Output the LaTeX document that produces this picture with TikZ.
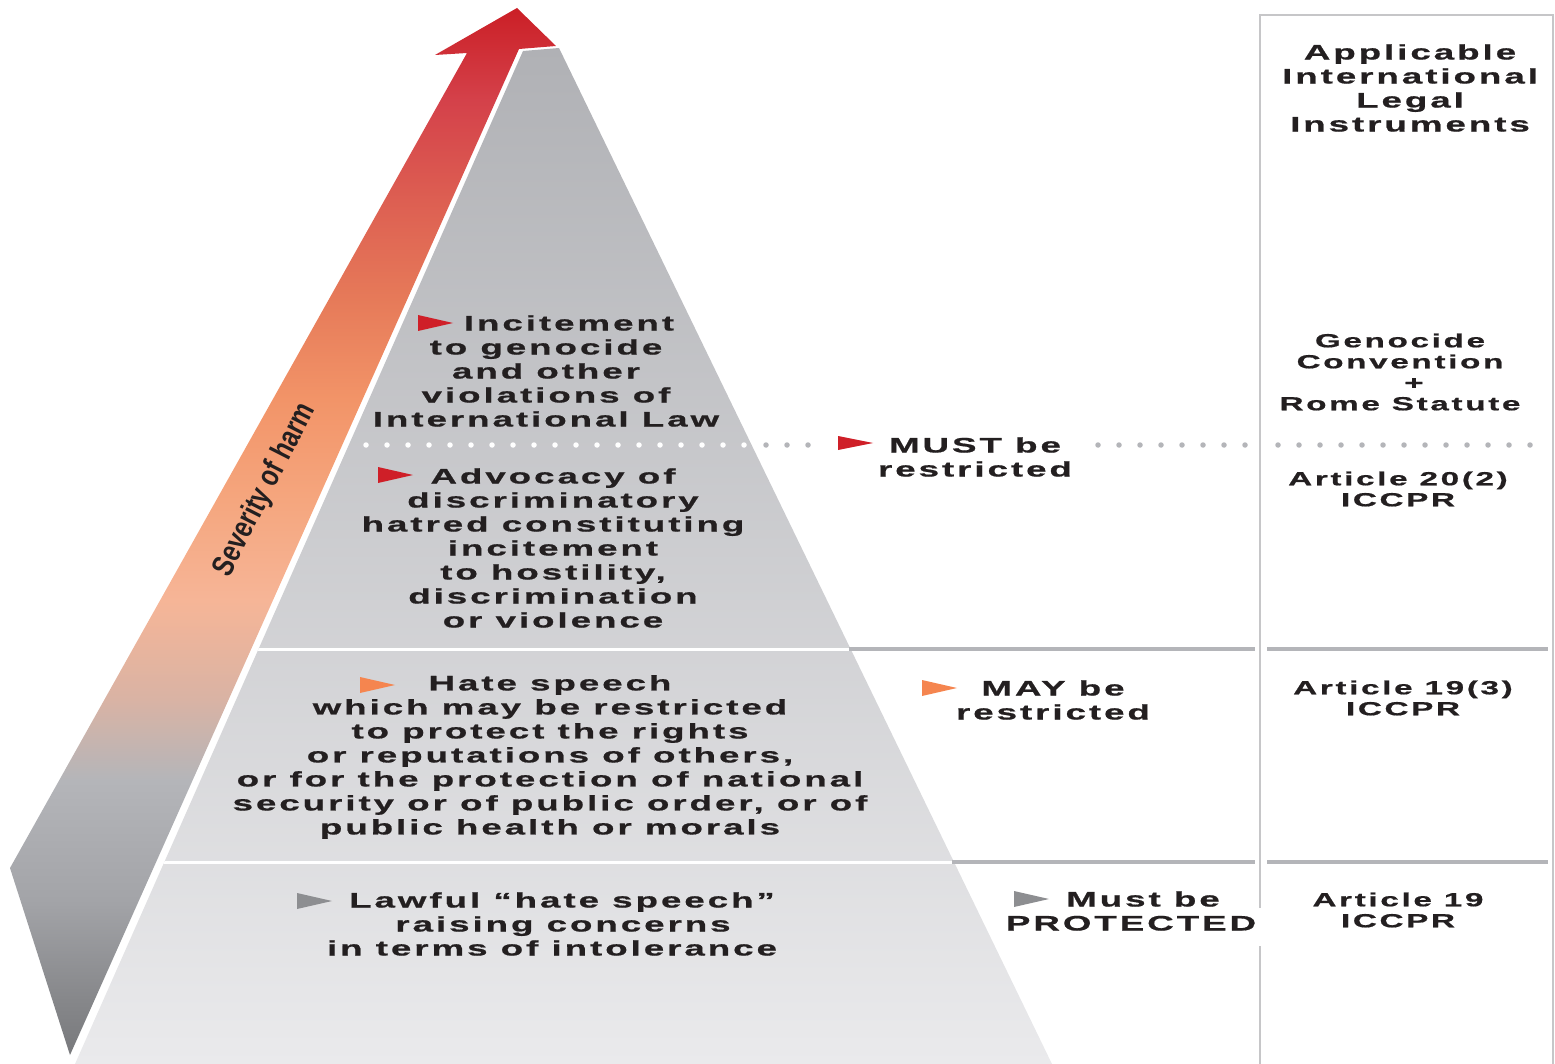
\documentclass[tikz,border=0pt]{standalone}
\usepackage{fontspec}
\setmainfont{Liberation Sans}
\newfontfamily\widefont{Liberation Sans}[FakeStretch=1.75,LetterSpace=14,FakeBold=0.8]
\newfontfamily\narrowfont{Liberation Sans}[FakeStretch=0.78]
\usepackage{tikz}
\definecolor{ink}{HTML}{231F20}
\definecolor{mred}{HTML}{CF1F28}
\definecolor{morange}{HTML}{F5854F}
\definecolor{mgray}{HTML}{8D8E91}
\definecolor{rulegray}{HTML}{B4B5B9}
\definecolor{boxgray}{HTML}{C6C6C8}
\definecolor{pyrtop}{HTML}{B0B1B5}
\definecolor{pyrbot}{HTML}{EAEAEC}
\definecolor{hred}{HTML}{CB1F26}
\definecolor{hpink}{HTML}{D4414A}
\definecolor{hsalmon}{HTML}{DD5F52}
\definecolor{hcoral}{HTML}{E67A59}
\definecolor{horange}{HTML}{F29468}
\definecolor{hlight}{HTML}{F5A67E}
\definecolor{hpeach}{HTML}{F6B597}
\definecolor{htan}{HTML}{D9B3A4}
\definecolor{hgrayA}{HTML}{B4B5B9}
\definecolor{hgrayB}{HTML}{A3A4A8}
\definecolor{hgrayC}{HTML}{86878A}
\definecolor{hgrayD}{HTML}{78797C}
\pgfdeclareverticalshading{harm}{100bp}{color(0bp)=(hgrayD); color(25bp)=(hgrayD);
  color(27.6bp)=(hgrayC); color(32.4bp)=(hgrayB); color(38.1bp)=(hgrayA);
  color(42bp)=(htan); color(46.7bp)=(hpeach); color(51.5bp)=(hlight);
  color(56.3bp)=(horange); color(61.1bp)=(hcoral); color(65.8bp)=(hsalmon);
  color(70.6bp)=(hpink); color(75bp)=(hred); color(100bp)=(hred)}
\newcommand\tiersize{\widefont\bfseries\fontsize{21}{24}\selectfont}
\newcommand\instsize{\widefont\bfseries\fontsize{19}{21}\selectfont}

\begin{document}
\begin{tikzpicture}[x=1pt, y=-1pt,
  tier/.style={font=\tiersize, text=ink, align=center},
  inst/.style={font=\instsize, text=ink, align=center},
  dots/.style={line width=5.5pt, line cap=round, dash pattern=on 0pt off 21pt}]

  \useasboundingbox (0, 0) rectangle (1555, 1064);

  \shade [shading=harm] (517, 8) -- (556, 46) -- (519, 49) -- (70, 1055) -- (10, 868) -- (467, 53) -- (435, 55) -- cycle;

  \shade [top color=pyrtop, bottom color=pyrbot] (523, 51) -- (559, 48) -- (1052, 1064) -- (75, 1064) -- cycle;

  \begin{scope}
    \clip (523, 51) -- (559, 48) -- (1052, 1064) -- (75, 1064) -- cycle;
    \draw [white, line width=3pt] (0, 649) -- ++(1100, 0);
    \draw [white, line width=3pt] (0, 862) -- ++(1100, 0);
    \draw [white, dots] (345, 445) -- (760, 445);
  \end{scope}

  \draw [rulegray, dots] (766, 445) -- (815, 445);
  \draw [rulegray, dots] (1098, 445) -- (1252, 445);
  \draw [rulegray, dots] (1278, 445) -- (1540, 445);

  \draw [rulegray, line width=4pt] (849, 649) -- (1255, 649);
  \draw [rulegray, line width=4pt] (1267, 649) -- (1548, 649);
  \draw [rulegray, line width=4pt] (952, 862) -- (1255, 862);
  \draw [rulegray, line width=4pt] (1267, 862) -- (1548, 862);

  \draw [boxgray, line width=1.5pt] (1260, 908) -- (1260, 15) -- (1553, 15) -- (1553, 1064);
  \draw [boxgray, line width=1.5pt] (1260, 946) -- (1260, 1064);

  \fill [mred] (418, 315) -- ++(35, 8) -- ++(-35, 8) -- cycle;
  \fill [mred] (378, 467) -- ++(35, 8) -- ++(-35, 8) -- cycle;
  \fill [mred] (838, 436) -- ++(35, 7) -- ++(-35, 7) -- cycle;
  \fill [morange] (360, 677) -- ++(35, 8) -- ++(-35, 8) -- cycle;
  \fill [morange] (922, 680) -- ++(35, 8) -- ++(-35, 8) -- cycle;
  \fill [mgray] (297, 893) -- ++(35, 8) -- ++(-35, 8) -- cycle;
  \fill [mgray] (1014, 891) -- ++(35, 8) -- ++(-35, 8) -- cycle;

  \node [tier] (incite) at (546, 371) {\hspace*{46pt}Incitement\\to genocide\\and other\\violations of\\International Law};
  \node [tier] (advocacy) at (553, 548) {Advocacy of\\discriminatory\\hatred constituting\\incitement\\to hostility,\\discrimination\\or violence};
  \node [tier] (hate) at (550, 757) {Hate speech\\which may be restricted\\to protect the rights\\or reputations of others,\\or for the protection of national\\security or of public order, or of\\public health or morals};
  \node [tier] (lawful) at (552, 924) {\hspace*{20pt}Lawful “hate speech”\\\hspace*{22pt}raising concerns\\in terms of intolerance};

  \node [tier] (must) at (975, 457) {MUST be\\restricted};
  \node [tier] (may) at (1053, 700) {MAY be\\restricted};
  \node [tier] (protect) at (1131, 911) {\hspace*{24pt}Must be\\PROTECTED};

  \node [tier] (header) at (1410, 88) {Applicable\\International\\Legal\\Instruments};
  \node [inst] (genocide) at (1400, 372) {Genocide\\Convention\\\hspace*{28pt}+\\Rome Statute};
  \node [inst] (art20) at (1398, 489) {Article 20(2)\\ICCPR};
  \node [inst] (art193) at (1403, 698) {Article 19(3)\\ICCPR};
  \node [inst] (art19) at (1398, 910) {Article 19\\ICCPR};

  \node [rotate=63, text=ink, font=\narrowfont\bfseries\fontsize{31}{33}\selectfont] (harm) at (265, 490) {Severity of harm};

\end{tikzpicture}
\end{document}
